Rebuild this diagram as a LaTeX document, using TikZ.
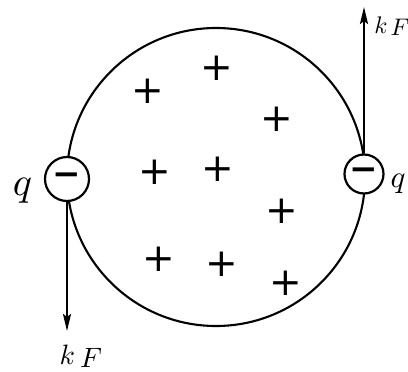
\documentclass[tikz,border=0pt]{standalone}
\usepackage{fontspec}
\newfontfamily\signfont{DejaVu Sans}
\usetikzlibrary{arrows.meta}
\begin{document}
\begin{tikzpicture}[x=1pt,y=1pt,
  chargering/.style={circle,draw,fill=white,inner sep=0pt,line width=2.2pt},
  minussign/.style={inner sep=0pt,scale=3.4,font=\signfont\bfseries},
  plussign/.style={inner sep=0pt,scale=3.9,font=\signfont},
  label/.style={inner sep=0pt,anchor=base west},
  force/.style={line width=2.4pt,-{Stealth[length=17pt,width=8pt,inset=3pt]}}]
\useasboundingbox (0,0) rectangle (408,-372);
\node[circle,draw,minimum size=298pt,inner sep=0pt,line width=2.1pt] (big) at (216,-177) {};
\node[chargering,minimum size=44pt] (cl) at (67,-179) {};
\node[chargering,minimum size=39pt] (cr) at (364,-174) {};
\node[minussign] (ml) at (cl.center) {−};
\node[minussign] (mr) at (cr.center) {−};
\coordinate (tl) at (67,-331);
\coordinate (tr) at (364,-7);
\draw[force] (cl.south) -- (tl);
\draw[force] (cr.north) -- (tr);
\node[label,scale=4] (ql) at (12,-195) {$q$};
\node[label,scale=3.1] (qr) at (390,-187) {$q$};
\node[label,scale=2.8] (kb) at (59,-364) {$k$\kern1.8pt\raisebox{-1.2pt}{$F$}};
\node[label,scale=2.4] (kt) at (374,-34) {$k$\kern1.2pt\raisebox{-0.8pt}{$F$}};
\foreach \n/\x/\y in {a/148/91, b/217/68, c/277/119, d/155/172, e/218/169, f/282/211, g/159/259, h/222/264, i/286/283}
  \node[plussign] (p\n) at (\x,-\y) {+};
\end{tikzpicture}
\end{document}
